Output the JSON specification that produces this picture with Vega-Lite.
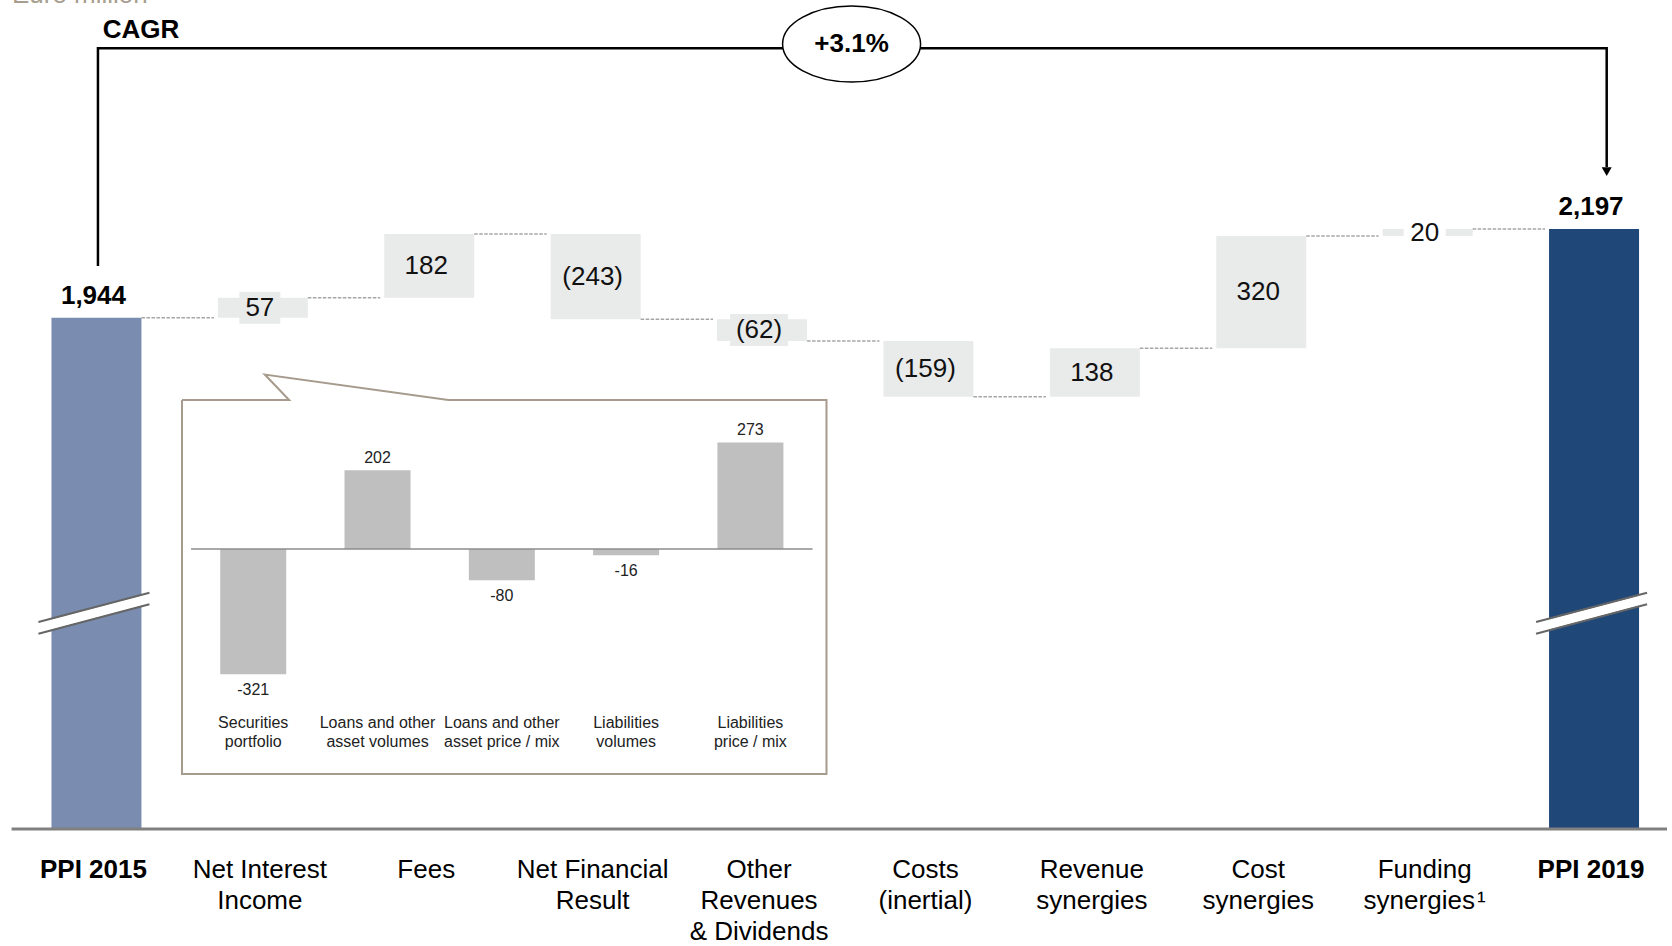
{
  "$schema": "https://vega.github.io/schema/vega-lite/v6.json",
  "width": 1672,
  "height": 946,
  "autosize": "none",
  "padding": 0,
  "background": "white",
  "config": {"view": {"stroke": null}, "font": "Liberation Sans"},
  "datasets": {
    "wf": [
      {"i": 0, "cat": "PPI 2015", "type": "total", "start": null, "end": 1944, "lab": "1,944", "name": "PPI 2015"},
      {"i": 1, "cat": "Net Interest Income", "type": "delta", "start": 1944, "end": 2001, "lab": "57", "name": "Net Interest\nIncome"},
      {"i": 2, "cat": "Fees", "type": "delta", "start": 2001, "end": 2183, "lab": "182", "name": "Fees"},
      {"i": 3, "cat": "Net Financial Result", "type": "delta", "start": 2183, "end": 1940, "lab": "(243)", "name": "Net Financial\nResult"},
      {"i": 4, "cat": "Other Revenues & Dividends", "type": "delta", "start": 1940, "end": 1878, "lab": "(62)", "name": "Other\nRevenues\n& Dividends"},
      {"i": 5, "cat": "Costs (inertial)", "type": "delta", "start": 1878, "end": 1719, "lab": "(159)", "name": "Costs\n(inertial)"},
      {"i": 6, "cat": "Revenue synergies", "type": "delta", "start": 1719, "end": 1857, "lab": "138", "name": "Revenue\nsynergies"},
      {"i": 7, "cat": "Cost synergies", "type": "delta", "start": 1857, "end": 2177, "lab": "320", "name": "Cost\nsynergies"},
      {"i": 8, "cat": "Funding synergies", "type": "delta", "start": 2177, "end": 2197, "lab": "20", "name": "Funding\nsynergies\u200a¹"},
      {"i": 9, "cat": "PPI 2019", "type": "total", "start": null, "end": 2197, "lab": "2,197", "name": "PPI 2019"}
    ],
    "inset": [
      {"j": 0, "name": "Securities\nportfolio", "v": -321, "lab": "-321"},
      {"j": 1, "name": "Loans and other\nasset volumes", "v": 202, "lab": "202"},
      {"j": 2, "name": "Loans and other\nasset price / mix", "v": -80, "lab": "-80"},
      {"j": 3, "name": "Liabilities\nvolumes", "v": -16, "lab": "-16"},
      {"j": 4, "name": "Liabilities\nprice / mix", "v": 273, "lab": "273"}
    ],
    "bracket": [
      {"o": 1, "px": 0.009, "py": 2091.6},
      {"o": 2, "px": 0.009, "py": 2712},
      {"o": 3, "px": 9.076, "py": 2712},
      {"o": 4, "px": 9.076, "py": 2373.6}
    ],
    "box": [
      {"o": 1, "px": -0.573, "py": 382.1},
      {"o": 2, "px": 0.289, "py": 382.1},
      {"o": 3, "px": 0.093, "py": 447.4},
      {"o": 4, "px": 1.57, "py": 382.1},
      {"o": 5, "px": 4.612, "py": 382.1},
      {"o": 6, "px": 4.612, "py": -576.9},
      {"o": 7, "px": -0.573, "py": -576.9},
      {"o": 8, "px": -0.573, "py": 382.1}
    ]
  },
  "layer": [
    {
      "layer": [
        {
          "data": {"name": "wf"},
          "transform": [{"filter": "datum.type == 'total'"}],
          "mark": {"type": "bar", "width": 90},
          "encoding": {
            "x": {"field": "i", "type": "quantitative", "scale": {"domain": [-0.5496, 9.4384], "nice": false, "zero": false}, "axis": null},
            "y": {"field": "end", "type": "quantitative", "scale": {"domain": [154.3, 2849.5], "nice": false, "zero": false}, "axis": null},
            "y2": {"datum": 487.6},
            "color": {"field": "cat", "type": "nominal", "scale": {"domain": ["PPI 2015", "PPI 2019"], "range": ["#7a8db0", "#1f4879"]}, "legend": null}
          }
        },
        {
          "data": {"name": "wf"},
          "transform": [{"filter": "datum.type == 'delta'"}],
          "mark": {"type": "bar", "width": 90, "color": "#e9eaea"},
          "encoding": {
            "x": {"field": "i", "type": "quantitative", "scale": {"domain": [-0.5496, 9.4384], "nice": false, "zero": false}, "axis": null},
            "y": {"field": "start", "type": "quantitative", "scale": {"domain": [154.3, 2849.5], "nice": false, "zero": false}, "axis": null},
            "y2": {"field": "end"}
          }
        },
        {
          "data": {"name": "wf"},
          "transform": [{"filter": "datum.i < 9"}],
          "mark": {"type": "rule", "xOffset": 45, "x2Offset": 117.4, "color": "#a6a6a6", "strokeWidth": 1.5, "strokeDash": [3.5, 1.5]},
          "encoding": {
            "x": {"field": "i", "type": "quantitative"},
            "x2": {"field": "i"},
            "y": {"field": "end", "type": "quantitative"}
          }
        },
        {
          "data": {"name": "wf"},
          "transform": [{"filter": "datum.type == 'total'"}],
          "mark": {"type": "rule", "xOffset": -58, "x2Offset": 53, "color": "white", "strokeWidth": 10, "strokeCap": "butt"},
          "encoding": {
            "x": {"field": "i", "type": "quantitative"},
            "x2": {"field": "i"},
            "y": {"datum": 1060.8, "type": "quantitative"},
            "y2": {"datum": 1144.3}
          }
        },
        {
          "data": {"name": "wf"},
          "transform": [{"filter": "datum.type == 'total'"}],
          "mark": {"type": "rule", "xOffset": -58, "x2Offset": 53, "color": "#666666", "strokeWidth": 2},
          "encoding": {
            "x": {"field": "i", "type": "quantitative"},
            "x2": {"field": "i"},
            "y": {"datum": 1077.3, "type": "quantitative"},
            "y2": {"datum": 1160.8}
          }
        },
        {
          "data": {"name": "wf"},
          "transform": [{"filter": "datum.type == 'total'"}],
          "mark": {"type": "rule", "xOffset": -58, "x2Offset": 53, "color": "#666666", "strokeWidth": 2},
          "encoding": {
            "x": {"field": "i", "type": "quantitative"},
            "x2": {"field": "i"},
            "y": {"datum": 1044.0, "type": "quantitative"},
            "y2": {"datum": 1127.8}
          }
        },
        {
          "data": {"values": [{}]},
          "mark": {"type": "rule", "color": "#808080", "strokeWidth": 3},
          "encoding": {
            "x": {"datum": -0.51, "type": "quantitative"},
            "x2": {"datum": 9.4384},
            "y": {"datum": 487.6, "type": "quantitative"}
          }
        },
        {
          "data": {"name": "wf"},
          "transform": [{"filter": "datum.i == 1"}, {"fold": ["start", "end"], "as": ["k", "lv"]}],
          "mark": {"type": "point", "shape": "M-1,-0.78H1V0.78H-1Z", "size": 1681, "filled": true, "fill": "#e9eaea", "opacity": 1, "strokeWidth": 0, "xOffset": -3},
          "encoding": {
            "x": {"field": "i", "type": "quantitative"},
            "y": {"aggregate": "mean", "field": "lv", "type": "quantitative"}
          }
        },
        {
          "data": {"name": "wf"},
          "transform": [{"filter": "datum.i == 4"}, {"fold": ["start", "end"], "as": ["k", "lv"]}],
          "mark": {"type": "point", "shape": "M-1,-0.552H1V0.552H-1Z", "size": 3364, "filled": true, "fill": "#e9eaea", "opacity": 1, "strokeWidth": 0, "xOffset": -3},
          "encoding": {
            "x": {"field": "i", "type": "quantitative"},
            "y": {"aggregate": "mean", "field": "lv", "type": "quantitative"}
          }
        },
        {
          "data": {"name": "wf"},
          "transform": [{"filter": "datum.i == 8"}, {"fold": ["start", "end"], "as": ["k", "lv"]}],
          "mark": {"type": "point", "shape": "M-1,-0.381H1V0.381H-1Z", "size": 1764, "filled": true, "fill": "white", "opacity": 1, "strokeWidth": 0, "xOffset": -3},
          "encoding": {
            "x": {"field": "i", "type": "quantitative"},
            "y": {"aggregate": "mean", "field": "lv", "type": "quantitative"}
          }
        },
        {
          "data": {"name": "wf"},
          "transform": [{"filter": "datum.type == 'delta'"}, {"fold": ["start", "end"], "as": ["k", "lv"]}],
          "mark": {"type": "text", "fontSize": 26, "font": "Liberation Sans", "color": "#111111", "align": "center", "baseline": "middle", "dx": -3},
          "encoding": {
            "x": {"field": "i", "type": "quantitative"},
            "y": {"aggregate": "mean", "field": "lv", "type": "quantitative"},
            "text": {"field": "lab", "type": "nominal"}
          }
        },
        {
          "data": {"name": "wf"},
          "transform": [{"filter": "datum.type == 'total'"}],
          "mark": {"type": "text", "fontSize": 26, "fontWeight": "bold", "font": "Liberation Sans", "color": "#000000", "align": "center", "baseline": "alphabetic", "dy": -14, "dx": -3},
          "encoding": {
            "x": {"field": "i", "type": "quantitative"},
            "y": {"field": "end", "type": "quantitative"},
            "text": {"field": "lab", "type": "nominal"}
          }
        },
        {
          "data": {"name": "wf"},
          "transform": [{"filter": "datum.type == 'delta'"}],
          "mark": {"type": "text", "fontSize": 26, "font": "Liberation Sans", "color": "#000000", "align": "center", "baseline": "alphabetic", "lineBreak": "\n", "lineHeight": 31, "dx": -3},
          "encoding": {
            "x": {"field": "i", "type": "quantitative"},
            "y": {"datum": 347.7, "type": "quantitative"},
            "text": {"field": "name", "type": "nominal"}
          }
        },
        {
          "data": {"name": "wf"},
          "transform": [{"filter": "datum.type == 'total'"}],
          "mark": {"type": "text", "fontSize": 26, "fontWeight": "bold", "font": "Liberation Sans", "color": "#000000", "align": "center", "baseline": "alphabetic", "lineBreak": "\n", "lineHeight": 31, "dx": -3},
          "encoding": {
            "x": {"field": "i", "type": "quantitative"},
            "y": {"datum": 347.7, "type": "quantitative"},
            "text": {"field": "name", "type": "nominal"}
          }
        },
        {
          "data": {"name": "bracket"},
          "mark": {"type": "line", "color": "#000000", "strokeWidth": 2.5, "strokeJoin": "miter"},
          "encoding": {
            "x": {"field": "px", "type": "quantitative"},
            "y": {"field": "py", "type": "quantitative"},
            "order": {"field": "o", "type": "quantitative"}
          }
        },
        {
          "data": {"values": [{}]},
          "mark": {"type": "point", "shape": "triangle-down", "size": 100, "filled": true, "color": "#000000", "opacity": 1},
          "encoding": {
            "x": {"datum": 9.076, "type": "quantitative"},
            "y": {"datum": 2360.5, "type": "quantitative"}
          }
        },
        {
          "data": {"values": [{}]},
          "mark": {"type": "point", "shape": "M-1,0A1,0.551,0,1,1,1,0A1,0.551,0,1,1,-1,0Z", "size": 19044, "filled": true, "fill": "white", "stroke": "#000000", "strokeWidth": 1.5, "opacity": 1},
          "encoding": {
            "x": {"datum": 4.538, "type": "quantitative"},
            "y": {"datum": 2724, "type": "quantitative"}
          }
        },
        {
          "data": {"values": [{"t": "+3.1%"}]},
          "mark": {"type": "text", "fontSize": 26, "fontWeight": "bold", "font": "Liberation Sans", "color": "#000000", "align": "center", "baseline": "middle"},
          "encoding": {
            "x": {"datum": 4.538, "type": "quantitative"},
            "y": {"datum": 2724, "type": "quantitative"},
            "text": {"field": "t", "type": "nominal"}
          }
        },
        {
          "data": {"values": [{"t": "CAGR"}]},
          "mark": {"type": "text", "fontSize": 26, "fontWeight": "bold", "font": "Liberation Sans", "color": "#000000", "align": "left", "baseline": "alphabetic"},
          "encoding": {
            "x": {"datum": 0.038, "type": "quantitative"},
            "y": {"datum": 2740.3, "type": "quantitative"},
            "text": {"field": "t", "type": "nominal"}
          }
        },
        {
          "data": {"values": [{"t": "Euro million"}]},
          "mark": {"type": "text", "fontSize": 26, "font": "Liberation Sans", "color": "#a89e90", "align": "left", "baseline": "alphabetic"},
          "encoding": {
            "x": {"datum": -0.508, "type": "quantitative"},
            "y": {"datum": 2840, "type": "quantitative"},
            "text": {"field": "t", "type": "nominal"}
          }
        }
      ]
    },
    {
      "layer": [
        {
          "data": {"name": "box"},
          "mark": {"type": "line", "color": "#a69b8c", "strokeWidth": 2, "strokeJoin": "miter"},
          "encoding": {
            "x": {"field": "px", "type": "quantitative", "scale": {"domain": [-1.997, 11.374], "nice": false, "zero": false}, "axis": null},
            "y": {"field": "py", "type": "quantitative", "scale": {"domain": [-1017.9, 1407.7], "nice": false, "zero": false}, "axis": null},
            "order": {"field": "o", "type": "quantitative"}
          }
        },
        {
          "data": {"name": "inset"},
          "mark": {"type": "bar", "width": 66, "color": "#bfbfbf"},
          "encoding": {
            "x": {"field": "j", "type": "quantitative", "scale": {"domain": [-1.997, 11.374], "nice": false, "zero": false}, "axis": null},
            "y": {"field": "v", "type": "quantitative", "scale": {"domain": [-1017.9, 1407.7], "nice": false, "zero": false}, "axis": null},
            "y2": {"datum": 0}
          }
        },
        {
          "data": {"values": [{}]},
          "mark": {"type": "rule", "color": "#8c8c8c", "strokeWidth": 1.5},
          "encoding": {
            "x": {"datum": -0.5, "type": "quantitative"},
            "x2": {"datum": 4.5},
            "y": {"datum": 0, "type": "quantitative"}
          }
        },
        {
          "data": {"name": "inset"},
          "transform": [{"filter": "datum.v > 0"}],
          "mark": {"type": "text", "fontSize": 16, "font": "Liberation Sans", "color": "#222222", "align": "center", "baseline": "alphabetic", "dy": -7.5},
          "encoding": {
            "x": {"field": "j", "type": "quantitative"},
            "y": {"field": "v", "type": "quantitative"},
            "text": {"field": "lab", "type": "nominal"}
          }
        },
        {
          "data": {"name": "inset"},
          "transform": [{"filter": "datum.v < 0"}],
          "mark": {"type": "text", "fontSize": 16, "font": "Liberation Sans", "color": "#222222", "align": "center", "baseline": "top", "dy": 7.5},
          "encoding": {
            "x": {"field": "j", "type": "quantitative"},
            "y": {"field": "v", "type": "quantitative"},
            "text": {"field": "lab", "type": "nominal"}
          }
        },
        {
          "data": {"name": "inset"},
          "mark": {"type": "text", "fontSize": 16, "font": "Liberation Sans", "color": "#222222", "align": "center", "baseline": "alphabetic", "lineBreak": "\n", "lineHeight": 19},
          "encoding": {
            "x": {"field": "j", "type": "quantitative"},
            "y": {"datum": -458.2, "type": "quantitative"},
            "text": {"field": "name", "type": "nominal"}
          }
        }
      ]
    }
  ],
  "resolve": {"scale": {"x": "independent", "y": "independent", "color": "independent"}}
}
